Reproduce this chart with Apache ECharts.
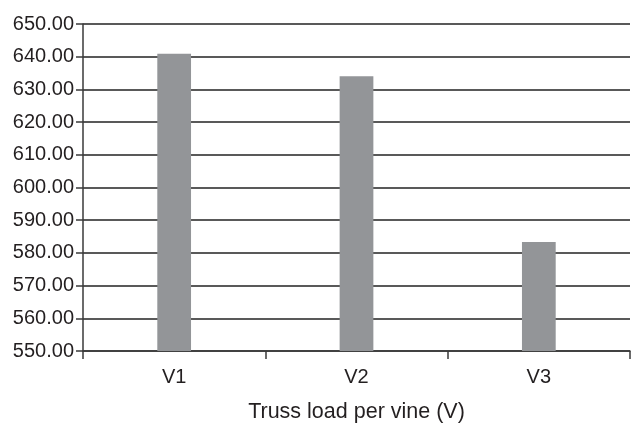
<!DOCTYPE html>
<html><head><meta charset="utf-8">
<script src="https://cdn.jsdelivr.net/npm/echarts@6/dist/echarts.min.js"></script>
<style>html,body{margin:0;padding:0;background:#fff}#c{width:631px;height:423px}</style>
</head><body><div id="c"></div>
<script>
const categories = ['V1', 'V2', 'V3'];
const values = [640.9, 634.0, 583.3];
const yMin = 550, yMax = 650, yStep = 10;
const xName = 'Truss load per vine (V)';

const chart = echarts.init(document.getElementById('c'), null, {renderer: 'canvas'});
chart.setOption({
  animation: false,
  backgroundColor: '#ffffff',
  grid: {left: 83, right: 1, top: 24, bottom: 72, containLabel: false, outerBoundsMode: 'none'},
  xAxis: {
    type: 'category', data: categories, boundaryGap: true,
    name: xName, nameLocation: 'middle', nameGap: 50,
    nameTextStyle: {fontFamily: 'Liberation Sans', fontSize: 21.5, color: '#231f20'},
    axisLine: {show: true, lineStyle: {color: '#3a3a3a', width: 1.5}},
    axisTick: {show: true, alignWithLabel: false, length: 8, lineStyle: {color: '#3a3a3a', width: 1.5}},
    axisLabel: {fontFamily: 'Liberation Sans', fontSize: 20, color: '#231f20', margin: 16}
  },
  yAxis: {
    type: 'value', min: yMin, max: yMax, interval: yStep,
    axisLine: {show: true, lineStyle: {color: '#3a3a3a', width: 1.5}},
    axisTick: {show: true, length: 7, lineStyle: {color: '#3a3a3a', width: 1.5}},
    axisLabel: {fontFamily: 'Liberation Sans', fontSize: 20, color: '#231f20', margin: 9,
      formatter: v => v.toFixed(2)},
    splitLine: {show: true, lineStyle: {color: '#222222', width: 1.5}}
  },
  series: [{
    type: 'bar', data: values, barWidth: '18.5%',
    itemStyle: {color: '#939598'}
  }]
});
</script></body></html>
